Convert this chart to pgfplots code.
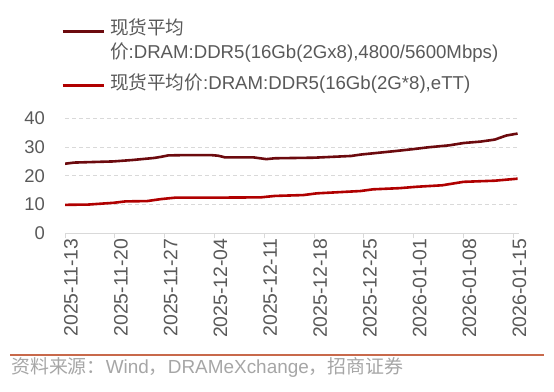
\documentclass[border=0pt]{standalone}
\usepackage{fontspec}
\setmainfont{Liberation Sans}
\newfontfamily\cjk{Noto Sans CJK SC}
\usepackage{pgfplots}
\pgfplotsset{compat=1.18}
\definecolor{serA}{RGB}{108,10,14}
\definecolor{serB}{RGB}{176,0,0}
\definecolor{txt}{RGB}{89,89,89}
\definecolor{srctxt}{RGB}{166,166,166}
\definecolor{srcrule}{RGB}{200,105,75}
\definecolor{axc}{RGB}{217,217,217}
\begin{document}
\begin{tikzpicture}[x=1bp,y=1bp]
\path[use as bounding box] (0,0) rectangle (554,391);
\begin{axis}[
  at={(65bp,157.7bp)}, anchor=south west,
  scale only axis, width=454.3bp, height=115bp,
  xmin=0, xmax=63.84, ymin=0, ymax=40,
  axis x line*=bottom, axis y line*=left,
  y axis line style={draw=none},
  x axis line style={draw=axc, line width=1bp, -},
  xtick={0,7,14,21,28,35,42,49,56,63},
  xticklabels={2025-11-13,2025-11-20,2025-11-27,2025-12-04,2025-12-11,2025-12-18,2025-12-25,2026-01-01,2026-01-08,2026-01-15},
  ytick={0,10,20,30,40},
  tick align=outside, major tick length=5bp,
  xtick style={draw=axc, line width=1bp},
  ytick style={draw=none},
  ymajorgrids,
  major grid style={draw=axc, dash pattern=on 4bp off 3bp, line width=0.8bp},
  ticklabel style={font=\fontsize{18.5}{22}\selectfont, text=txt},
  xticklabel style={rotate=90, anchor=east, inner sep=0pt, yshift=-6bp, font=\fontsize{19.5}{22}\selectfont},
  yticklabel style={anchor=east, inner sep=0pt, xshift=-15bp},
  /pgf/number format/assume math mode=true,
  legend style={at={(axis description cs:-0.0088,1.871)}, anchor=north west,
    draw=none, fill=none, inner sep=0pt, outer sep=0pt,
    row sep=6.5bp, column sep=4.3bp,
    font=\fontsize{18.7}{24}\selectfont, text=txt,
    cells={anchor=base west}, nodes={inner sep=0pt}},
  legend image code/.code={\draw[#1, line width=3bp] (0bp,3.8bp) -- (41.7bp,3.8bp);},
]
\addplot[serA, line width=2.6bp] table {
x y
0 24.2
1.3 24.6
4 24.8
6.8 25.0
9.5 25.5
12.5 26.2
13.5 26.6
14.5 27.1
17 27.2
20.5 27.2
21.5 27.0
22.5 26.4
26.5 26.4
28.3 25.8
29.5 26.1
35 26.3
40.2 26.9
41.6 27.4
44 28.0
46.4 28.6
49 29.3
51 29.9
54 30.6
56 31.4
58.4 31.9
60.4 32.6
62 34.0
63.6 34.7
};
\addlegendentry[text height=16.8bp, text depth=31.2bp]{\vtop{\hbox{\strut{\cjk 现货平均}}\hbox{\strut{\cjk 价}:DRAM:DDR5(16Gb(2Gx8),4800/5600Mbps)}}}
\addplot[serB, line width=2.6bp] table {
x y
0 9.9
3.3 10.0
6.8 10.6
8.5 11.1
11.5 11.2
13.5 11.9
15.5 12.4
20.5 12.4
27.5 12.5
29.5 13.0
33.5 13.3
35.4 13.9
41.5 14.7
43.3 15.3
47 15.7
49.5 16.2
53 16.7
56 17.9
60.4 18.3
63.6 19.0
};
\addlegendentry[text height=16.8bp, text depth=7.2bp]{\strut{\cjk 现货平均价}:DRAM:DDR5(16Gb(2G*8),eTT)}
\end{axis}
\draw[srcrule, line width=2bp] (10,36.5) -- (544,36.5);
\node[anchor=west, inner sep=0pt, text=srctxt, font=\fontsize{19}{22}\selectfont] at (11,24) {{\cjk 资料来源：}Wind{\cjk ，}DRAMeXchange{\cjk ，招商证券}};
\end{tikzpicture}
\end{document}
